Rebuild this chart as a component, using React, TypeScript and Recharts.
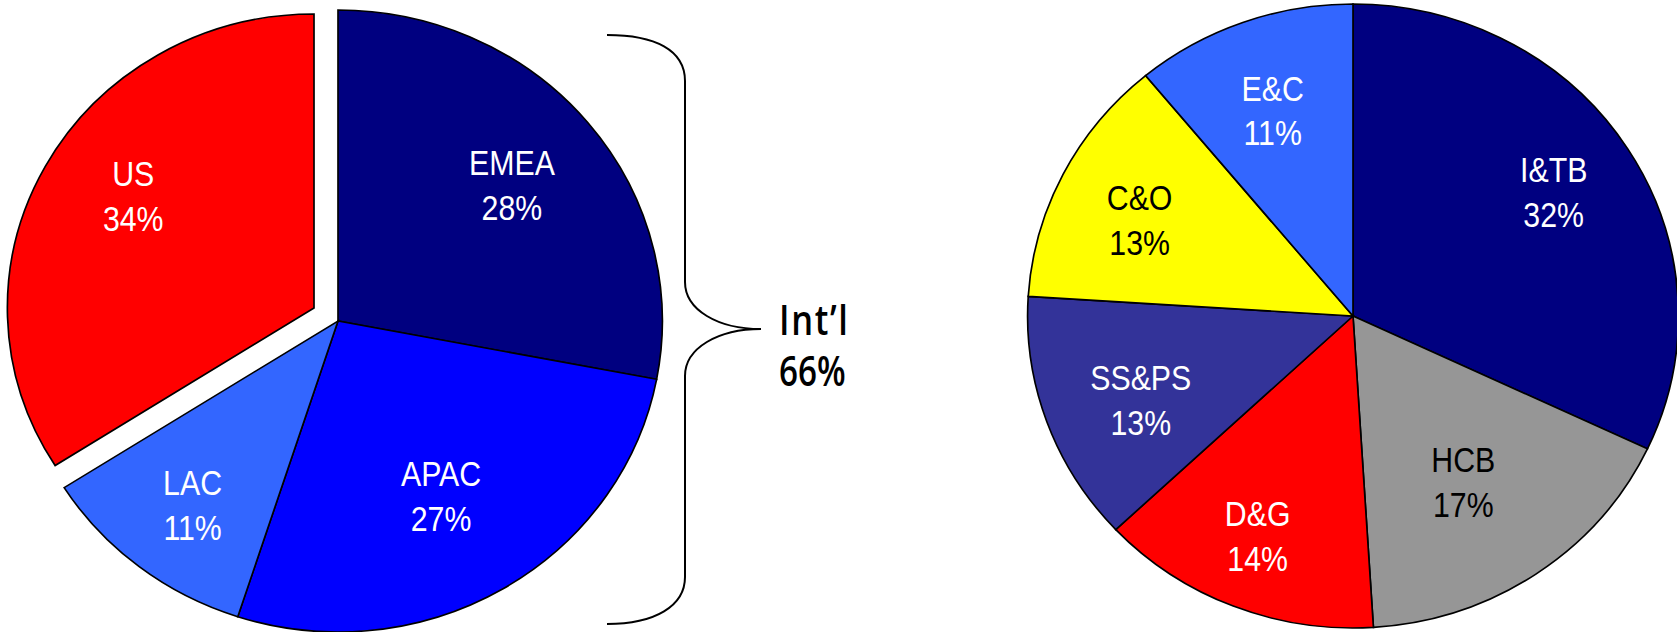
import { PieChart, Pie, Cell } from 'recharts';

// revenue by region (left) and by business segment (right), in percent
const REGIONS = ['EMEA', 'APAC', 'LAC', 'US'];
const REGION_SHARE = [28, 27, 11, 34];
const REGION_COLORS = ['#000080', '#0000FF', '#3366FF', '#FF0000'];
const REGION_TEXT = ['#FFFFFF', '#FFFFFF', '#FFFFFF', '#FFFFFF'];
const EXPLODED = 'US';

const SEGMENTS = ['I&TB', 'HCB', 'D&G', 'SS&PS', 'C&O', 'E&C'];
const SEGMENT_SHARE = [32, 17, 14, 13, 13, 11];
const SEGMENT_COLORS = ['#000080', '#969696', '#FF0000', '#333399', '#FFFF00', '#3366FF'];
const SEGMENT_TEXT = ['#FFFFFF', '#000000', '#FFFFFF', '#FFFFFF', '#000000', '#FFFFFF'];

const INTL_NAME = 'Int\u2019l';

// small per-slice shifts of the label block, in px
const REGION_LABEL_NUDGE = [[-1, 3], [-12, -12], [-6, 12], [7, -13]];
const SEGMENT_LABEL_NUDGE = [[8, -7], [-17, -15], [-11, 17], [2, 10], [-10, 3], [-3, 0]];

const RADIAN = Math.PI / 180;
const STRETCH = 1.043; // pies are drawn slightly wider than tall
const LABEL_SQUEEZE = 0.83;
const LABEL_FONT = "'Liberation Sans', Arial, sans-serif";
const BRACE_FONT = "'Open Sans', 'Noto Sans', sans-serif";

const regionData = REGIONS.map((name, i) => ({ name, value: REGION_SHARE[i] }));
const segmentData = SEGMENTS.map((name, i) => ({ name, value: SEGMENT_SHARE[i] }));

const intlShare = REGIONS.reduce((sum, r, i) => (r === EXPLODED ? sum : sum + REGION_SHARE[i]), 0);

function makeLabel(
    names: string[],
    values: number[],
    colors: string[],
    nudge: number[][],
    show: (i: number) => boolean
) {
    return (props: any) => {
        const { cx, cy, midAngle, outerRadius, index } = props;
        if (!show(index)) return null;
        const r = outerRadius * 0.7;
        const x = cx + r * Math.cos(-midAngle * RADIAN) + nudge[index][0];
        const y = cy + r * Math.sin(-midAngle * RADIAN) + nudge[index][1];
        return (
            <text
                transform={`translate(${x},${y}) scale(${LABEL_SQUEEZE},1)`}
                textAnchor="middle"
                fill={colors[index]}
                fontFamily={LABEL_FONT}
                fontSize={35}
            >
                <tspan x={0} y={-10}>{names[index]}</tspan>
                <tspan x={0} y={35}>{`${values[index]}%`}</tspan>
            </text>
        );
    };
}

const noMargin = { top: 0, right: 0, bottom: 0, left: 0 };

function RegionPie() {
    const isExploded = (i: number) => REGIONS[i] === EXPLODED;
    return (
        <div
            style={{
                position: 'absolute',
                left: 0,
                top: 0,
                width: 700,
                height: 632,
                transform: `scaleX(${STRETCH})`,
                transformOrigin: '338px 321px',
            }}
        >
            <PieChart width={700} height={632} margin={noMargin}>
                <Pie
                    data={regionData}
                    dataKey="value"
                    nameKey="name"
                    cx={338}
                    cy={321}
                    outerRadius={311}
                    startAngle={90}
                    endAngle={-270}
                    isAnimationActive={false}
                    labelLine={false}
                    label={makeLabel(REGIONS, REGION_SHARE, REGION_TEXT, REGION_LABEL_NUDGE, (i) => !isExploded(i))}
                >
                    {regionData.map((d, i) => (
                        <Cell
                            key={`r-${d.name}`}
                            fill={isExploded(i) ? 'none' : REGION_COLORS[i]}
                            stroke={isExploded(i) ? 'none' : '#000'}
                            strokeWidth={1.6}
                        />
                    ))}
                </Pie>
                {/* pulled-out US wedge */}
                <Pie
                    data={regionData}
                    dataKey="value"
                    nameKey="name"
                    cx={315}
                    cy={308}
                    outerRadius={294}
                    startAngle={90}
                    endAngle={-270}
                    isAnimationActive={false}
                    labelLine={false}
                    label={makeLabel(REGIONS, REGION_SHARE, REGION_TEXT, REGION_LABEL_NUDGE, isExploded)}
                >
                    {regionData.map((d, i) => (
                        <Cell
                            key={`x-${d.name}`}
                            fill={isExploded(i) ? REGION_COLORS[i] : 'none'}
                            stroke={isExploded(i) ? '#000' : 'none'}
                            strokeWidth={1.6}
                        />
                    ))}
                </Pie>
            </PieChart>
        </div>
    );
}

function SegmentPie() {
    return (
        <div
            style={{
                position: 'absolute',
                left: 1000,
                top: 0,
                width: 677,
                height: 632,
                transform: `scaleX(${STRETCH})`,
                transformOrigin: '353px 316px',
            }}
        >
            <PieChart width={677} height={632} margin={noMargin}>
                <Pie
                    data={segmentData}
                    dataKey="value"
                    nameKey="name"
                    cx={353}
                    cy={316}
                    outerRadius={312}
                    startAngle={90}
                    endAngle={-270}
                    isAnimationActive={false}
                    labelLine={false}
                    label={makeLabel(SEGMENTS, SEGMENT_SHARE, SEGMENT_TEXT, SEGMENT_LABEL_NUDGE, () => true)}
                >
                    {segmentData.map((d, i) => (
                        <Cell key={`s-${d.name}`} fill={SEGMENT_COLORS[i]} stroke="#000" strokeWidth={1.6} />
                    ))}
                </Pie>
            </PieChart>
        </div>
    );
}

// curly brace grouping the international regions
function IntlBrace() {
    return (
        <svg
            width={1677}
            height={632}
            style={{ position: 'absolute', left: 0, top: 0, pointerEvents: 'none' }}
        >
            <path
                d="M607,35 C655,35 685,50 685,81 L685,282 C685,310 718,329 761,329 C718,329 685,348 685,376 L685,577 C685,606 655,624 607,624"
                fill="none"
                stroke="#000"
                strokeWidth={2}
            />
            <text
                transform="translate(779,335) scale(0.82,1)"
                fontFamily={BRACE_FONT}
                fontSize={42}
                fontWeight={600}
                fill="#000"
            >
                <tspan x={0} y={0} letterSpacing={2}>{INTL_NAME}</tspan>
            </text>
            <text
                transform="translate(779,386) scale(0.79,1)"
                fontFamily={BRACE_FONT}
                fontSize={42}
                fontWeight={600}
                fill="#000"
            >
                {`${intlShare}%`}
            </text>
        </svg>
    );
}

export default function App() {
    return (
        <div style={{ position: 'absolute', left: 0, top: 0, width: 1677, height: 632, overflow: 'hidden', background: '#fff' }}>
            <RegionPie />
            <SegmentPie />
            <IntlBrace />
        </div>
    );
}
